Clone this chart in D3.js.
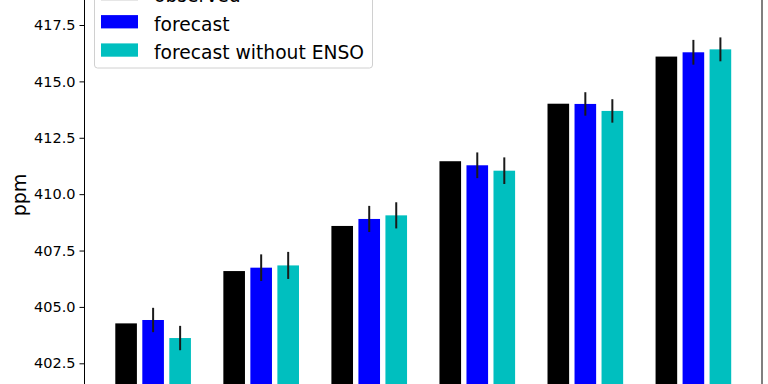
<!DOCTYPE html>
<html>
<head>
<meta charset="utf-8">
<script src="https://cdn.jsdelivr.net/npm/d3@7"></script>
<style>
  body { margin: 0; background: #fff; }
  svg { display: block; font-family: "DejaVu Sans", sans-serif; }
</style>
</head>
<body>
<svg id="chart" width="768" height="384"></svg>
<script>
// values (ppm)
var groups = [0, 1, 2, 3, 4, 5];
var observed = [404.27, 406.59, 408.59, 411.46, 414.01, 416.10];
var forecast = [404.42, 406.74, 408.90, 411.28, 414.00, 416.29];
var forecastErr = [0.54, 0.59, 0.58, 0.57, 0.52, 0.55];
var noEnso = [403.62, 406.84, 409.06, 411.04, 413.69, 416.42];
var noEnsoErr = [0.54, 0.60, 0.58, 0.59, 0.52, 0.53];
var yTicks = [402.5, 405.0, 407.5, 410.0, 412.5, 415.0, 417.5];

var seriesNames = ['observed', 'forecast', 'forecast without ENSO'];
var colors = ['#000000', '#0000ff', '#00bfbf'];
var offsets = [-0.25, 0, 0.25];
var barW = 0.2;

var svg = d3.select('#chart');

var x = d3.scaleLinear().domain([-0.635, 5.635]).range([84.5, 762]);
var y = d3.scaleLinear().domain([402.5, 417.5]).range([363.3, 25]);
var yBottom = y(400);

var series = [
    {vals: observed, err: null},
    {vals: forecast, err: forecastErr},
    {vals: noEnso, err: noEnsoErr}
];

series.forEach(function(s, si) {
    svg.append('g').selectAll('rect')
        .data(groups)
        .enter().append('rect')
        .attr('x', function(d) { return x(d + offsets[si] - barW / 2); })
        .attr('width', x(barW) - x(0))
        .attr('y', function(d) { return y(s.vals[d]); })
        .attr('height', function(d) { return yBottom - y(s.vals[d]); })
        .attr('fill', colors[si]);

    if (s.err) {
        svg.append('g').selectAll('line')
            .data(groups)
            .enter().append('line')
            .attr('x1', function(d) { return x(d + offsets[si]); })
            .attr('x2', function(d) { return x(d + offsets[si]); })
            .attr('y1', function(d) { return y(s.vals[d] - s.err[d]); })
            .attr('y2', function(d) { return y(s.vals[d] + s.err[d]); })
            .attr('stroke', '#1a1a1a')
            .attr('stroke-width', 2);
    }
});

// y axis
var yAxis = d3.axisLeft(y)
    .tickValues(yTicks)
    .tickFormat(d3.format('.1f'))
    .tickSize(5)
    .tickPadding(4);

var gy = svg.append('g')
    .attr('transform', 'translate(' + x.range()[0] + ',0)')
    .call(yAxis);
gy.select('.domain').remove();
gy.selectAll('text')
    .attr('font-size', 14.5)
    .attr('font-family', '"DejaVu Sans", sans-serif')
    .attr('fill', '#000');
gy.selectAll('line').attr('stroke', '#000').attr('stroke-width', 1);

// spines
svg.append('line')
    .attr('x1', x.range()[0]).attr('x2', x.range()[0])
    .attr('y1', -10).attr('y2', 400)
    .attr('stroke', '#000').attr('stroke-width', 1);
svg.append('line')
    .attr('x1', x.range()[1]).attr('x2', x.range()[1])
    .attr('y1', -10).attr('y2', 400)
    .attr('stroke', '#000').attr('stroke-width', 1);

// y label
svg.append('text')
    .attr('transform', 'translate(26,195) rotate(-90)')
    .attr('text-anchor', 'middle')
    .attr('font-size', 19)
    .text('ppm');

// legend
var legend = svg.append('g');
legend.append('rect')
    .attr('x', 94.5).attr('y', -30)
    .attr('width', 278).attr('height', 98)
    .attr('rx', 3)
    .attr('fill', '#fff')
    .attr('fill-opacity', 0.8)
    .attr('stroke', '#d0d0d0');

var entry = legend.selectAll('g.entry')
    .data(seriesNames)
    .enter().append('g')
    .attr('class', 'entry')
    .attr('transform', function(d, i) { return 'translate(0,' + (-6.6 + i * 28.3) + ')'; });
entry.append('rect')
    .attr('x', 101).attr('y', -6.6)
    .attr('width', 37).attr('height', 13.3)
    .attr('fill', function(d, i) { return colors[i]; });
entry.append('text')
    .attr('x', 154).attr('y', 8.8)
    .attr('font-size', 18.7)
    .attr('fill', '#000')
    .text(function(d) { return d; });
</script>
</body>
</html>
